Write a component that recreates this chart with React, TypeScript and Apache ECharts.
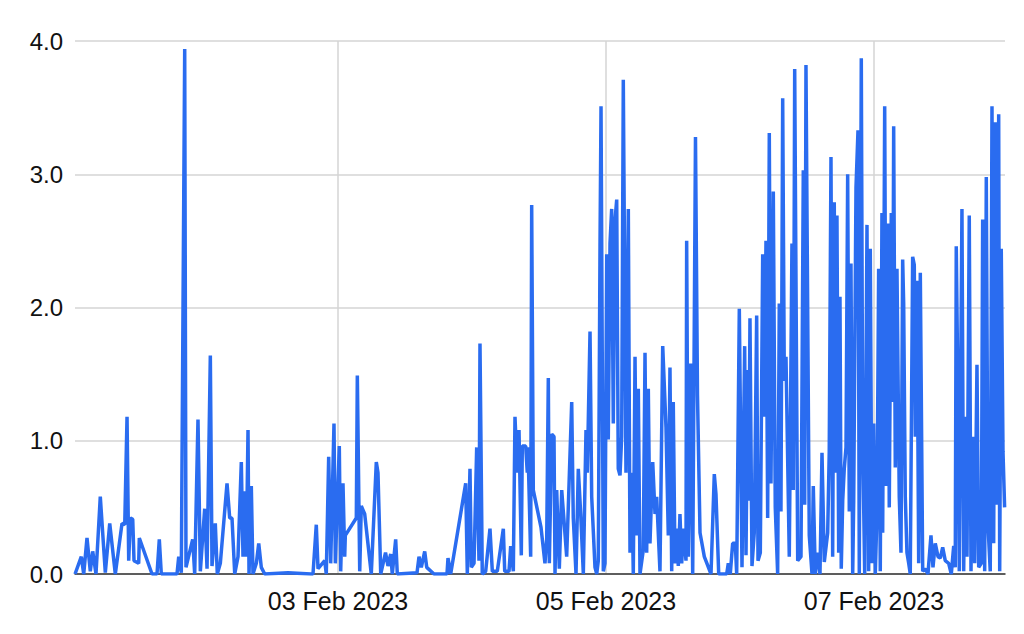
import React, { useEffect, useRef } from "react";
import * as echarts from "echarts";

// Time of each reading, in hours after 01 Feb 2023 00:00 UTC
const START = "2023-02-01T00:00:00Z";
const hours = [
  0.9, 2.02, 2.45, 3.04, 3.63, 4.06, 4.65, 5.42, 6.32, 7.11, 8.11, 9.31, 9.8, 10.21, 10.51, 10.8, 11.23, 11.46, 12.3, 12.41,
  14.68, 15.58, 15.99, 16.35, 19.16, 19.47, 19.93, 20.54, 20.77, 21.97, 22.33, 22.92, 23.34, 24.12, 24.54, 25.13, 25.43, 26.02, 26.38, 26.92,
  28.12, 28.6, 29.01, 29.5, 30.09, 30.68, 30.98, 31.29, 31.57, 31.88, 32.06, 32.47, 32.77, 33.37, 33.8, 34.26, 34.87, 39.04, 43.16, 43.52,
  44.11, 44.42, 45.62, 45.9, 46.33, 46.69, 47.28, 47.52, 48.23, 48.48, 48.89, 49.2, 49.31, 51.28, 51.46, 51.89, 52.17, 52.78, 53.96, 54.86,
  55.16, 55.65, 56.51, 56.95, 57.44, 57.72, 58.33, 58.62, 62.15, 62.51, 62.92, 63.53, 63.89, 65.19, 67.52, 67.7, 68.18, 70.87, 71.16, 71.64,
  71.88, 72.36, 72.84, 73.25, 73.43, 73.84, 74.45, 75.22, 75.64, 76.53, 77.61, 77.86, 78.63, 78.93, 79.4, 79.7, 80.11, 80.42, 80.83, 81.01,
  81.62, 81.9, 82.03, 82.51, 82.69, 82.98, 84.36, 85.07, 85.38, 85.67, 85.85, 86.28, 86.69, 86.87, 87.17, 87.64, 88.07, 88.96, 89.86, 90.14,
  90.63, 91.04, 91.47, 91.94, 92.42, 92.65, 93.14, 93.44, 94.03, 94.34, 94.62, 94.93, 95.11, 95.52, 95.82, 96.13, 96.41, 96.72, 97.02, 97.31,
  97.61, 97.92, 98.2, 98.51, 98.81, 99.1, 99.58, 100.0, 100.3, 100.6, 100.89, 101.2, 101.5, 101.79, 102.09, 102.68, 102.99, 103.29, 103.58, 103.88,
  104.37, 104.78, 105.08, 105.67, 106.16, 106.75, 107.16, 107.46, 107.77, 108.05, 108.36, 108.66, 108.95, 109.25, 109.56, 109.85, 110.33, 110.45, 110.74, 111.17,
  111.53, 112.03, 112.39, 112.84, 113.61, 114.81, 115.4, 115.7, 116.19, 116.9, 117.62, 117.91, 118.26, 118.69, 119.16, 119.41, 119.88, 120.36, 120.84, 121.08,
  121.38, 121.56, 121.79, 122.15, 122.56, 122.99, 123.23, 123.64, 124.07, 124.35, 124.66, 124.96, 125.25, 125.55, 125.97, 126.32, 126.75, 127.04, 127.34, 127.65,
  127.94, 128.24, 128.83, 129.31, 129.55, 129.8, 130.34, 130.93, 131.34, 131.59, 131.82, 132.41, 132.9, 133.13, 133.49, 133.92, 134.33, 134.69, 135.1, 135.71,
  135.99, 136.3, 136.6, 136.89, 137.07, 137.37, 137.68, 137.91, 138.14, 138.4, 138.68, 138.99, 139.29, 139.58, 139.88, 140.19, 140.37, 140.78, 141.14, 141.37,
  141.73, 141.98, 142.34, 142.75, 143.05, 143.34, 143.64, 143.95, 144.24, 144.54, 144.84, 145.13, 145.43, 145.56, 145.92, 146.21, 146.51, 146.74, 147.1, 147.35,
  147.53, 147.82, 148.12, 148.53, 148.84, 149.14, 149.32, 149.61, 149.91, 150.22, 150.5, 150.93, 151.22, 151.4, 151.7, 152.01, 152.3, 152.73, 153.19, 153.67,
  154.21, 154.57, 154.98, 155.47, 155.88, 156.31, 156.77, 157.38, 157.85, 158.28, 158.56, 158.74, 159.05, 159.28, 159.76, 160.07, 160.36, 160.66, 161.07, 161.38,
  161.68, 162.04, 162.45, 162.76, 163.22, 163.47, 163.83, 164.12, 164.42, 164.83, 165.14, 165.44, 165.73, 166.03, 166.34, 166.52, 166.8, 167.11, 167.4,
];
const values = [
  0, 0.13, 0, 0.27, 0.02, 0.17, 0, 0.58, 0.01, 0.38, 0, 0.38, 0.37, 1.18, 0.1, 0.42, 0.41, 0.1, 0.08, 0.27,
  0, 0, 0.26, 0, 0, 0.13, 0.01, 3.94, 0.05, 0.26, 0, 1.16, 0.02, 0.49, 0.04, 1.64, 0.06, 0.38, 0, 0.08,
  0.68, 0.42, 0.42, 0, 0.13, 0.84, 0.13, 0.62, 0.13, 1.08, 0, 0.66, 0, 0.08, 0.23, 0.05, 0, 0.01, 0, 0,
  0.37, 0.04, 0.1, 0, 0.88, 0.08, 1.13, 0.08, 0.96, 0.02, 0.68, 0.13, 0.29, 0.42, 1.49, 0.02, 0.51, 0.45, 0, 0.84,
  0.76, 0, 0.16, 0.06, 0.15, 0, 0.26, 0, 0.01, 0.13, 0.05, 0.17, 0.05, 0, 0, 0.12, 0, 0.68, 0, 0.79,
  0.05, 0.08, 0.95, 0.1, 1.73, 0, 0.02, 0.34, 0.02, 0.02, 0.34, 0.02, 0.02, 0.21, 0.02, 1.18, 0.76, 1.08, 0.14, 0.96,
  0.96, 0.76, 0.95, 0.13, 2.77, 0.63, 0.35, 0.08, 0.26, 1.47, 0.08, 1.05, 1.03, 0, 0.63, 0.04, 0.63, 0.13, 1.29, 0.42,
  0, 0.79, 0.45, 0, 1.08, 0.76, 1.82, 0.58, 0.05, 0, 0.1, 2.46, 3.51, 0.02, 0.08, 2.4, 1.01, 2.48, 2.74, 1.13,
  2.65, 2.81, 0.79, 0.74, 1.03, 3.71, 0.76, 2.74, 0.16, 0.76, 0, 1.63, 0.29, 1.39, 0, 0.18, 1.66, 0.16, 1.39, 0.23,
  0.84, 0.45, 0.58, 0.02, 1.71, 1.1, 0.29, 1.55, 0.02, 1.29, 0.08, 0.34, 0.06, 0.45, 0.08, 0.34, 0.1, 2.5, 0.13, 1.58,
  0, 3.28, 1.34, 0.31, 0.13, 0, 0.75, 0.6, 0, 0, 0, 0.08, 0, 0.23, 0.23, 0, 1.99, 0.05, 1.71, 0.14,
  1.53, 0.55, 1.92, 0.06, 0.31, 1.94, 0.1, 0.16, 2.4, 1.18, 2.5, 0.42, 3.31, 0.68, 2.87, 0.5, 0, 2.03, 0.47, 3.57,
  1.45, 1.63, 0.13, 2.48, 0.63, 3.79, 0.1, 0.13, 3.03, 0.52, 3.82, 0.29, 0, 0.66, 0, 0.16, 0, 0.91, 0.09, 0.31,
  0.92, 3.13, 0.13, 2.79, 0.76, 2.69, 0.16, 2.08, 0.04, 0.55, 0.79, 0.95, 3.0, 0.47, 2.33, 0, 0.55, 2.9, 3.33, 0,
  3.87, 1.0, 0, 2.62, 0.02, 2.44, 0.08, 1.13, 0, 0.46, 2.29, 0.02, 2.71, 0.31, 3.51, 0.66, 2.63, 0.5, 2.71, 1.29,
  3.36, 0.8, 2.29, 0.58, 0.16, 2.36, 2.03, 0.58, 0.16, 0.08, 0, 2.38, 2.32, 1.03, 2.2, 0.08, 2.26, 0.02, 0.04, 0,
  0.29, 0.05, 0.23, 0.13, 0.12, 0.2, 0.1, 0.08, 0, 0.21, 0.05, 2.46, 1.29, 0.02, 2.74, 0.02, 1.18, 0.13, 2.69, 0.02,
  1.03, 0.08, 1.57, 0.05, 0.08, 2.66, 0.02, 2.98, 0.37, 0.02, 3.51, 0.23, 3.39, 0.52, 3.45, 0.02, 2.44, 0.92, 0.5,
];
const tickDays = ["2023-02-03", "2023-02-05", "2023-02-07"];
const rangeHours = [0.89, 167.47];
const yRange = [0, 4];
const monthNames = ["Jan", "Feb", "Mar", "Apr", "May", "Jun", "Jul", "Aug", "Sep", "Oct", "Nov", "Dec"];

export default function App() {
  const ref = useRef<HTMLDivElement>(null);
  useEffect(() => {
    document.body.style.margin = "0";
    const chart = echarts.init(ref.current!, null, { renderer: "svg" });
    const base = Date.parse(START);
    const H = 3600000;
    const data = hours.map((h, i) => [base + h * H, values[i]]);
    const tickValues = tickDays.map((d) => Date.parse(d + "T00:00:00Z"));
    const fmt = (v: number) => {
      const d = new Date(v);
      const dd = String(d.getUTCDate()).padStart(2, "0");
      return `${dd} ${monthNames[d.getUTCMonth()]} ${d.getUTCFullYear()}`;
    };
    chart.setOption({
      animation: false,
      grid: { left: 75, right: 19, top: 41, bottom: 60, outerBoundsMode: "none" },
      xAxis: {
        type: "value",
        min: base + rangeHours[0] * H,
        max: base + rangeHours[1] * H,
        axisLine: { show: true, onZero: true, lineStyle: { color: "#333", width: 1.5 } },
        axisTick: { show: false, customValues: tickValues },
        axisLabel: {
          customValues: tickValues,
          formatter: (v: number) => fmt(v),
          color: "#111",
          fontSize: 25,
          fontFamily: "Liberation Sans, Arial, sans-serif",
          margin: 14,
          hideOverlap: false,
        },
        splitLine: { show: true, lineStyle: { color: "#d4d4d4", width: 1.5 } },
      },
      yAxis: {
        type: "value",
        min: yRange[0],
        max: yRange[1],
        interval: 1,
        axisLine: { show: false },
        axisTick: { show: false },
        axisLabel: {
          formatter: (v: number) => v.toFixed(1),
          color: "#111",
          fontSize: 24,
          fontFamily: "Liberation Sans, Arial, sans-serif",
          margin: 12,
        },
        splitLine: { show: true, lineStyle: { color: "#d4d4d4", width: 1.5 } },
      },
      series: [
        {
          type: "line",
          data,
          symbol: "none",
          showSymbol: false,
          lineStyle: { color: "#2a6cf0", width: 3.5 },
          itemStyle: { color: "#2a6cf0" },
          z: 3,
        },
      ],
    });
    return () => chart.dispose();
  }, []);
  return <div ref={ref} style={{ width: 1024, height: 634 }} />;
}
